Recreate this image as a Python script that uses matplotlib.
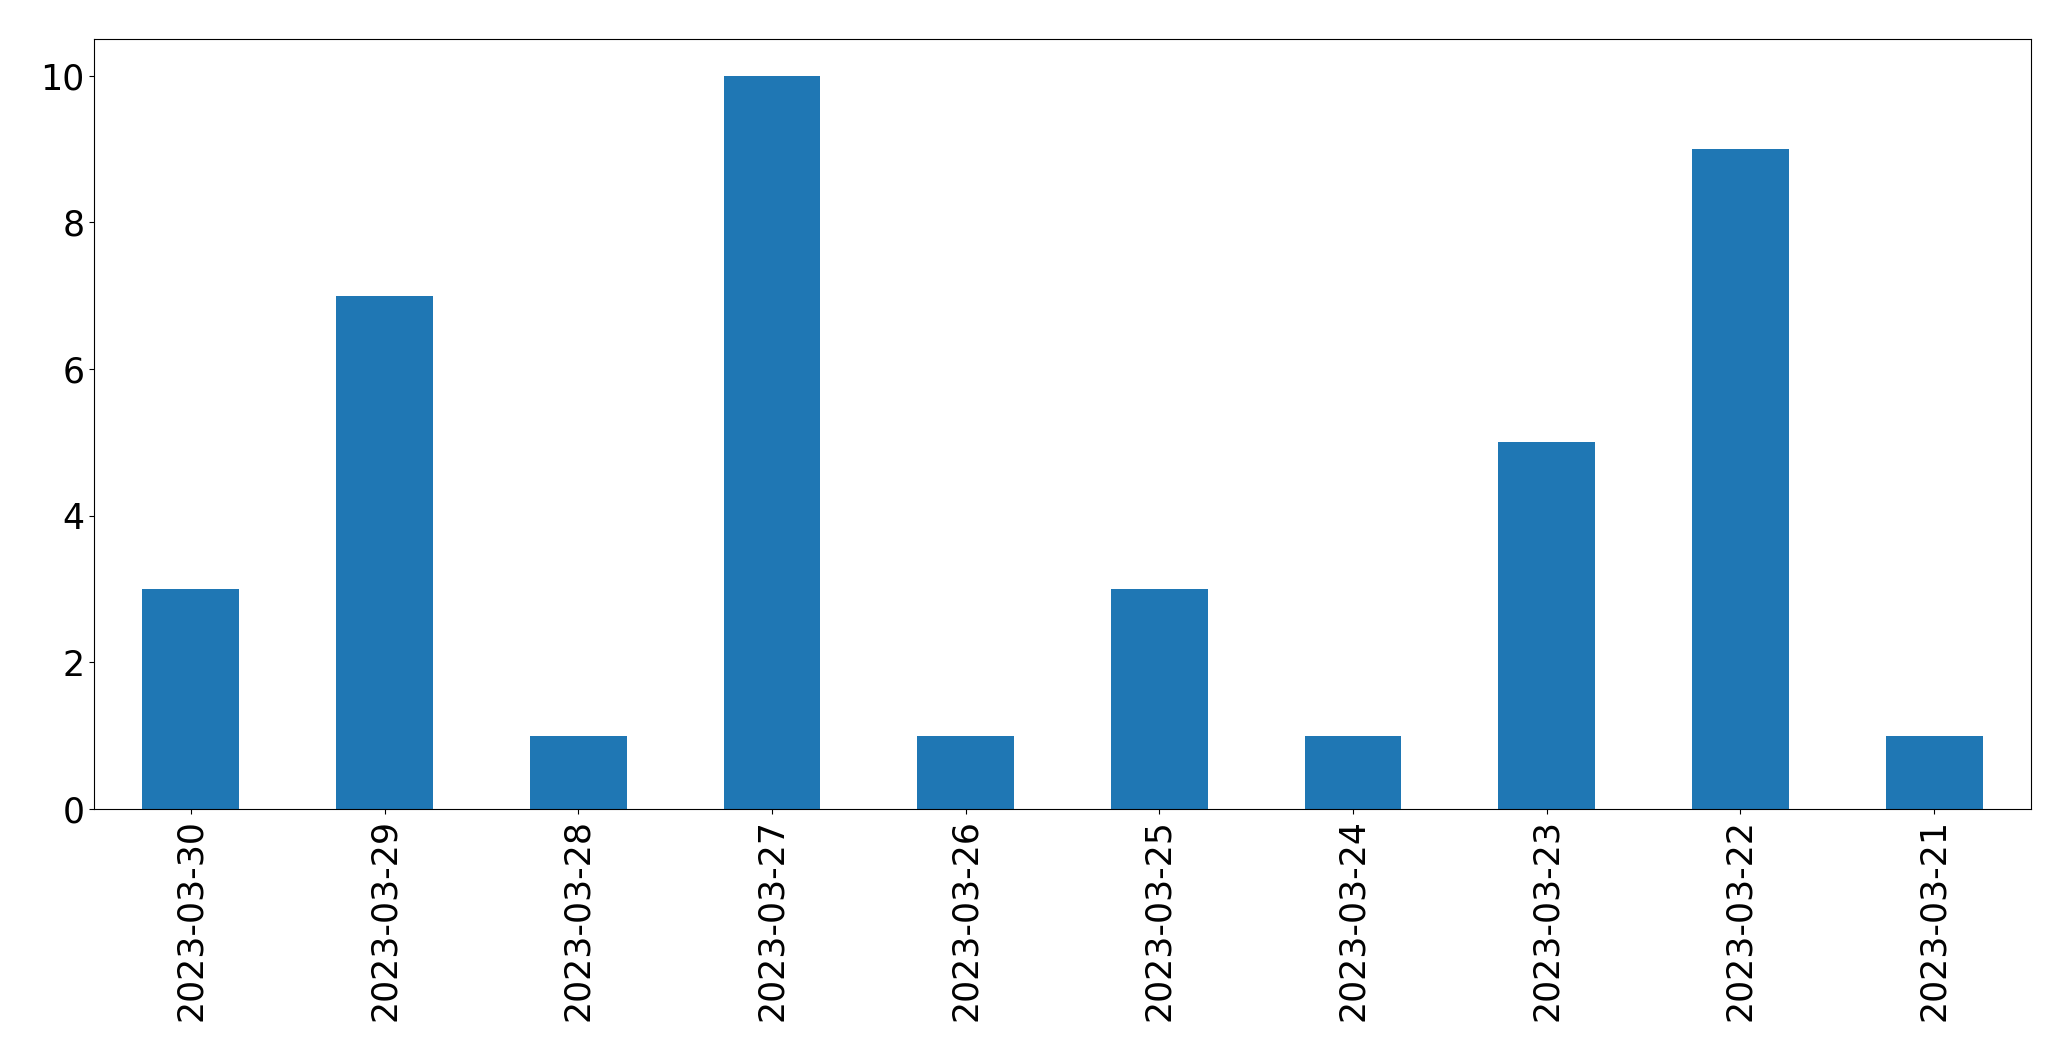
import matplotlib
matplotlib.use('Agg')
import matplotlib.pyplot as plt

dates = ['2023-03-30', '2023-03-29', '2023-03-28', '2023-03-27', '2023-03-26',
         '2023-03-25', '2023-03-24', '2023-03-23', '2023-03-22', '2023-03-21']
counts = [3, 7, 1, 10, 1, 3, 1, 5, 9, 1]

W, H = 2071, 1061
fig = plt.figure(figsize=(W / 100, H / 100), dpi=100)
# axes box in pixels: left 94, right 2031, top 39, bottom 809
ax = fig.add_axes([94 / W, 1 - 809 / H, (2031 - 94) / W, (809 - 39) / H])
x = range(len(dates))
ax.bar(x, counts, width=0.5, color='#1f77b4')
ax.set_xticks(list(x))
ax.set_xticklabels(dates, rotation=90, fontsize=25)
ax.tick_params(axis='y', labelsize=25)
ax.set_xlim(-0.5, len(dates) - 0.5)
ax.set_ylim(0, 10.5)
fig.savefig('out.png', dpi=100)
